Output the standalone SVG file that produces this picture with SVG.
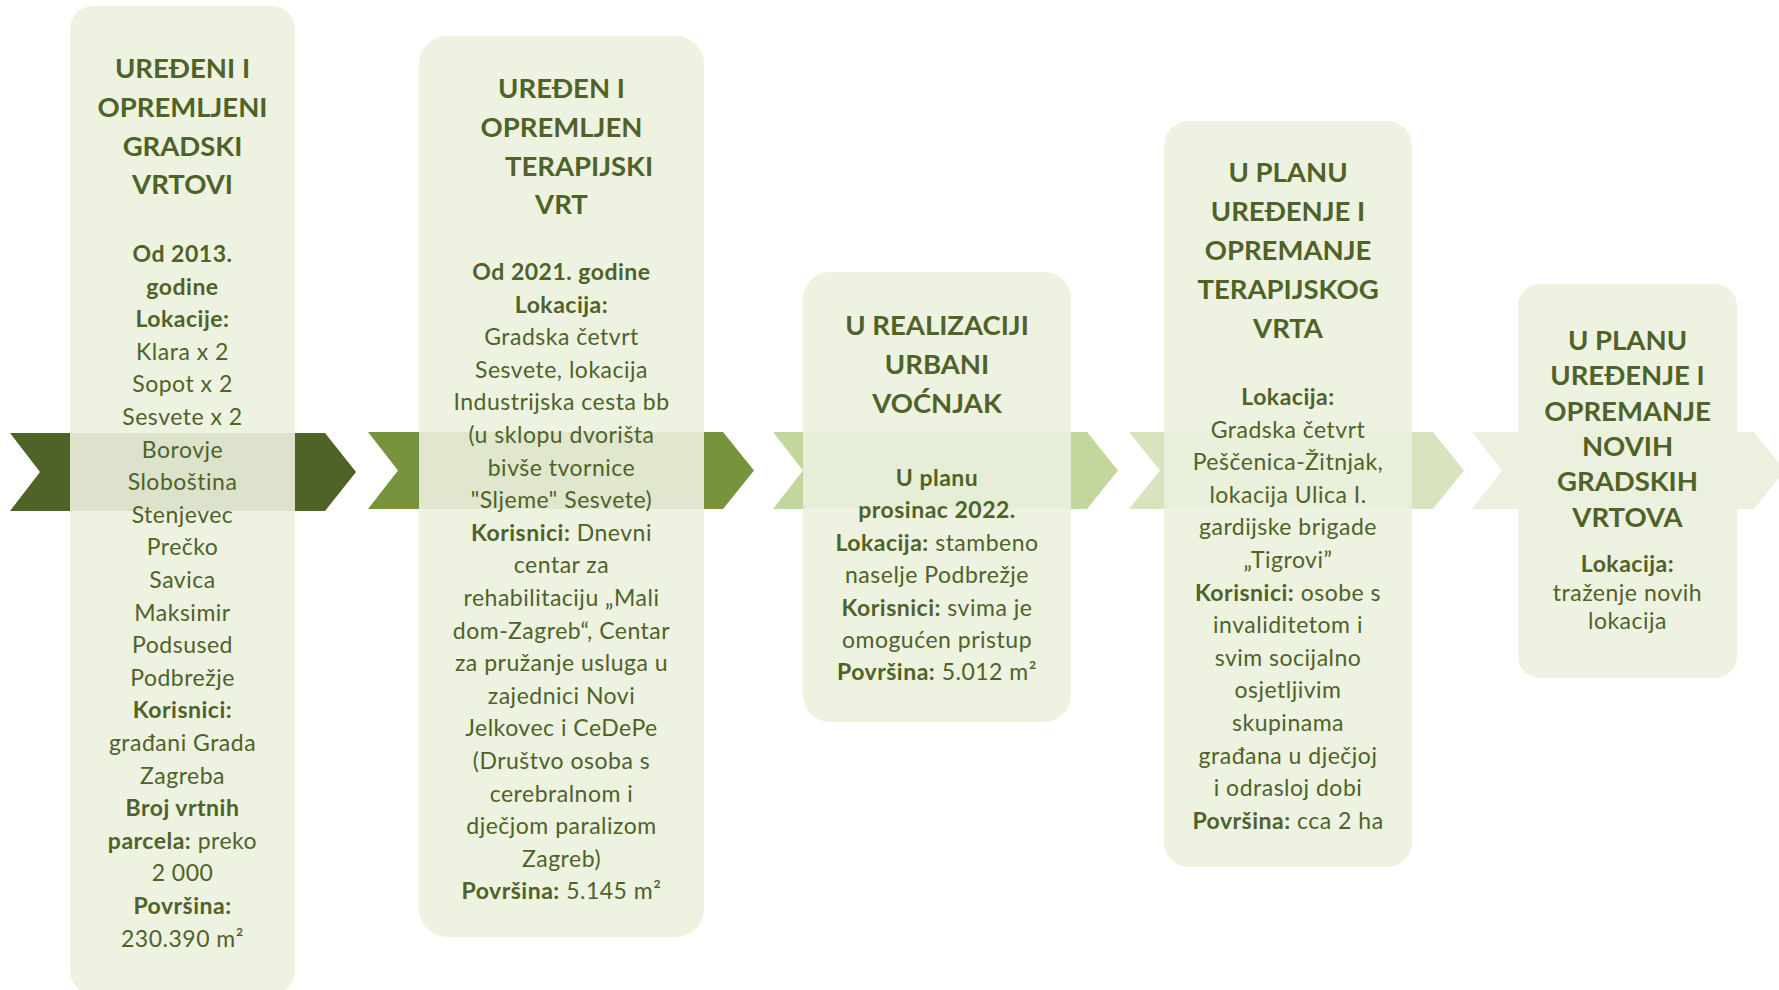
<svg xmlns="http://www.w3.org/2000/svg" width="1779" height="990" viewBox="0 0 1779 990">
<style>
  .box { fill: #EBF1DE; fill-opacity: 0.9; }
  .t { font-family: Lato, "Liberation Sans", sans-serif; fill: #4F6228; text-anchor: middle; }
  .h { font-size: 27.5px; font-weight: bold; }
  .b { font-size: 23px; letter-spacing: 0.5px; }
  .bb { font-weight: bold; }
</style>
<rect width="1779" height="990" fill="#FFFFFF"/>
<g id="connectors">
  <polygon id="arrow1" fill="#4F6228" points="10,433 325,433 356,472 325,511 10,511 40,472"/>
  <polygon id="arrow2" fill="#77933C" points="368,432 723,432 754,470.5 723,509 368,509 398,470.5"/>
  <polygon id="arrow3" fill="#C3D69B" points="773,432 1087,432 1118,470.5 1087,509 773,509 803,470.5"/>
  <polygon id="arrow4" fill="#D7E4BD" points="1129,432 1433,432 1464,470.5 1433,509 1129,509 1160,470.5"/>
  <polygon id="arrow5" fill="#EBF1DE" points="1472,432 1754,432 1785,470.5 1754,509 1472,509 1502,470.5"/>
</g>
<g id="node1">
  <rect class="box" x="70" y="6" width="225" height="988" rx="23" ry="23"/>
  <g class="t h">
    <text x="182.5" y="78">UREĐENI I</text>
    <text x="182.5" y="117">OPREMLJENI</text>
    <text x="182.5" y="156">GRADSKI</text>
    <text x="182.5" y="194">VRTOVI</text>
  </g>
  <g class="t b">
    <text x="182.5" y="262" class="bb">Od 2013.</text>
    <text x="182.5" y="294.6" class="bb">godine</text>
    <text x="182.5" y="327.2" class="bb">Lokacije:</text>
    <text x="182.5" y="359.8">Klara x 2</text>
    <text x="182.5" y="392.4">Sopot x 2</text>
    <text x="182.5" y="425">Sesvete x 2</text>
    <text x="182.5" y="457.6">Borovje</text>
    <text x="182.5" y="490.2">Sloboština</text>
    <text x="182.5" y="522.8">Stenjevec</text>
    <text x="182.5" y="555.4">Prečko</text>
    <text x="182.5" y="588">Savica</text>
    <text x="182.5" y="620.6">Maksimir</text>
    <text x="182.5" y="653.2">Podsused</text>
    <text x="182.5" y="685.8">Podbrežje</text>
    <text x="182.5" y="718.4" class="bb">Korisnici:</text>
    <text x="182.5" y="751">građani Grada</text>
    <text x="182.5" y="783.6">Zagreba</text>
    <text x="182.5" y="816.2" class="bb">Broj vrtnih</text>
    <text x="182.5" y="848.8"><tspan class="bb">parcela:</tspan> preko</text>
    <text x="182.5" y="881.4">2 000</text>
    <text x="182.5" y="914" class="bb">Površina:</text>
    <text x="182.5" y="946.6">230.390 m²</text>
  </g>
</g>
<g id="node2">
  <rect class="box" x="419" y="36" width="285" height="901" rx="28" ry="28"/>
  <g class="t h">
    <text x="561.5" y="98">UREĐEN I</text>
    <text x="561.5" y="137">OPREMLJEN</text>
    <text x="579" y="176">TERAPIJSKI</text>
    <text x="561.5" y="214">VRT</text>
  </g>
  <g class="t b">
    <text x="561.5" y="280" class="bb">Od 2021. godine</text>
    <text x="561.5" y="312.6" class="bb">Lokacija:</text>
    <text x="561.5" y="345.2">Gradska četvrt</text>
    <text x="561.5" y="377.8">Sesvete, lokacija</text>
    <text x="561.5" y="410.4">Industrijska cesta bb</text>
    <text x="561.5" y="443">(u sklopu dvorišta</text>
    <text x="561.5" y="475.6">bivše tvornice</text>
    <text x="561.5" y="508.2">"Sljeme" Sesvete)</text>
    <text x="561.5" y="540.8"><tspan class="bb">Korisnici:</tspan> Dnevni</text>
    <text x="561.5" y="573.4">centar za</text>
    <text x="561.5" y="606">rehabilitaciju „Mali</text>
    <text x="561.5" y="638.6">dom-Zagreb“, Centar</text>
    <text x="561.5" y="671.2">za pružanje usluga u</text>
    <text x="561.5" y="703.8">zajednici Novi</text>
    <text x="561.5" y="736.4">Jelkovec i CeDePe</text>
    <text x="561.5" y="769">(Društvo osoba s</text>
    <text x="561.5" y="801.6">cerebralnom i</text>
    <text x="561.5" y="834.2">dječjom paralizom</text>
    <text x="561.5" y="866.8">Zagreb)</text>
    <text x="561.5" y="899.4"><tspan class="bb">Površina:</tspan> 5.145 m²</text>
  </g>
</g>
<g id="node3">
  <rect class="box" x="803" y="272" width="268" height="450" rx="27" ry="27"/>
  <g class="t h">
    <text x="937" y="335">U REALIZACIJI</text>
    <text x="937" y="374">URBANI</text>
    <text x="937" y="413">VOĆNJAK</text>
  </g>
  <g class="t b">
    <text x="937" y="486" class="bb">U planu</text>
    <text x="937" y="518.4" class="bb">prosinac 2022.</text>
    <text x="937" y="550.8"><tspan class="bb">Lokacija:</tspan> stambeno</text>
    <text x="937" y="583.2">naselje Podbrežje</text>
    <text x="937" y="615.6"><tspan class="bb">Korisnici:</tspan> svima je</text>
    <text x="937" y="648">omogućen pristup</text>
    <text x="937" y="680.4"><tspan class="bb">Površina:</tspan> 5.012 m²</text>
  </g>
</g>
<g id="node4">
  <rect class="box" x="1164" y="121" width="248" height="746" rx="25" ry="25"/>
  <g class="t h">
    <text x="1288" y="182">U PLANU</text>
    <text x="1288" y="221">UREĐENJE I</text>
    <text x="1288" y="260">OPREMANJE</text>
    <text x="1288" y="299">TERAPIJSKOG</text>
    <text x="1288" y="338">VRTA</text>
  </g>
  <g class="t b">
    <text x="1288" y="405" class="bb">Lokacija:</text>
    <text x="1288" y="437.6">Gradska četvrt</text>
    <text x="1288" y="470.2">Peščenica-Žitnjak,</text>
    <text x="1288" y="502.8">lokacija Ulica I.</text>
    <text x="1288" y="535.4">gardijske brigade</text>
    <text x="1288" y="568">„Tigrovi”</text>
    <text x="1288" y="600.6"><tspan class="bb">Korisnici:</tspan> osobe s</text>
    <text x="1288" y="633.2">invaliditetom i</text>
    <text x="1288" y="665.8">svim socijalno</text>
    <text x="1288" y="698.4">osjetljivim</text>
    <text x="1288" y="731">skupinama</text>
    <text x="1288" y="763.6">građana u dječjoj</text>
    <text x="1288" y="796.2">i odrasloj dobi</text>
    <text x="1288" y="828.8"><tspan class="bb">Površina:</tspan> cca 2 ha</text>
  </g>
</g>
<g id="node5">
  <rect class="box" x="1518" y="284" width="219" height="394" rx="22" ry="22"/>
  <g class="t h">
    <text x="1627.5" y="350">U PLANU</text>
    <text x="1627.5" y="385.3">UREĐENJE I</text>
    <text x="1627.5" y="420.6">OPREMANJE</text>
    <text x="1627.5" y="455.9">NOVIH</text>
    <text x="1627.5" y="491.2">GRADSKIH</text>
    <text x="1627.5" y="526.5">VRTOVA</text>
  </g>
  <g class="t b">
    <text x="1627.5" y="572" class="bb">Lokacija:</text>
    <text x="1627.5" y="600.5">traženje novih</text>
    <text x="1627.5" y="629">lokacija</text>
  </g>
</g>
</svg>
